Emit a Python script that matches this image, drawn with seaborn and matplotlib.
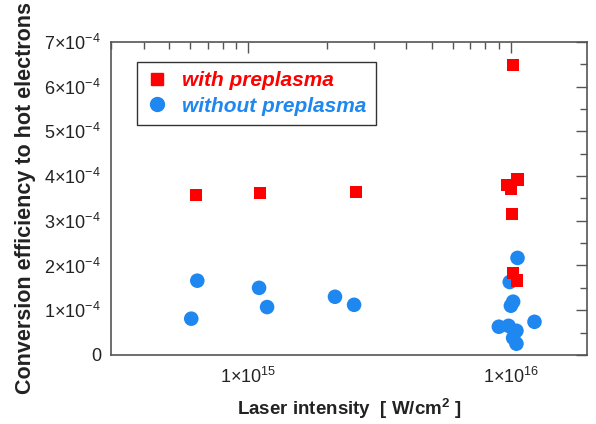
import numpy as np
import pandas as pd
import matplotlib
matplotlib.use("Agg")
import matplotlib.pyplot as plt
import matplotlib.ticker as mticker
from matplotlib.lines import Line2D
import seaborn as sns

# --- data ---
with_x = [6.34e14, 1.11e15, 2.57e15, 1.02e16, 9.66e15, 1.06e16, 1.00e16, 1.01e16, 1.02e16, 1.055e16]
with_y = [3.58e-4, 3.62e-4, 3.65e-4, 6.49e-4, 3.80e-4, 3.92e-4, 3.71e-4, 3.15e-4, 1.83e-4, 1.66e-4]
without_x = [6.4e14, 6.07e14, 1.10e15, 1.18e15, 2.14e15, 2.53e15, 1.06e16, 9.9e15, 1.02e16, 1.00e16,
             9.0e15, 9.8e15, 1.05e16, 1.02e16, 1.05e16, 1.23e16]
without_y = [1.66e-4, 0.81e-4, 1.50e-4, 1.07e-4, 1.30e-4, 1.12e-4, 2.17e-4, 1.63e-4, 1.19e-4, 1.10e-4,
             0.63e-4, 0.65e-4, 0.54e-4, 0.38e-4, 0.25e-4, 0.74e-4]
series_labels = ["with preplasma", "without preplasma"]
y_ticks = [0, 1e-4, 2e-4, 3e-4, 4e-4, 5e-4, 6e-4, 7e-4]
x_ticks = [1e15, 1e16]

df = pd.DataFrame({
    "x": with_x + without_x,
    "y": with_y + without_y,
    "series": [series_labels[0]] * len(with_x) + [series_labels[1]] * len(without_x),
})

sns.set_theme(style="white")
plt.rcParams["font.family"] = ["Liberation Sans", "DejaVu Sans"]
plt.rcParams["mathtext.fontset"] = "custom"
plt.rcParams["mathtext.rm"] = "Liberation Sans"
plt.rcParams["mathtext.it"] = "Liberation Sans:italic"
plt.rcParams["mathtext.bf"] = "Liberation Sans:bold"

RED = "#ff0000"
BLUE = "#1e88f0"
TXT = "#222222"

fig = plt.figure(figsize=(5.96, 4.24), dpi=100)
ax = fig.add_axes([0.186, 0.163, 0.799, 0.738])

sns.scatterplot(data=df[df.series == series_labels[1]], x="x", y="y", ax=ax,
                color=BLUE, marker="o", s=110, edgecolor="none", legend=False, zorder=2)
sns.scatterplot(data=df[df.series == series_labels[0]], x="x", y="y", ax=ax,
                color=RED, marker="s", s=80, edgecolor="none", legend=False, zorder=3)

ax.set_xscale("log")
ax.set_xlim(3e14, 1.95e16)
ax.set_ylim(0, 7e-4)

ax.set_xticks(x_ticks)
ax.xaxis.set_major_formatter(mticker.FuncFormatter(
    lambda v, p: r"1$\times$10$^{%d}$" % round(np.log10(v))))
ax.xaxis.set_minor_locator(mticker.LogLocator(base=10, subs=np.arange(2, 10)))
ax.xaxis.set_minor_formatter(mticker.NullFormatter())

ax.set_yticks(y_ticks)
def yfmt(v, p):
    if v == 0:
        return "0"
    return r"%d$\times$10$^{-4}$" % round(v / 1e-4)
ax.yaxis.set_major_formatter(mticker.FuncFormatter(yfmt))
ax.yaxis.set_minor_locator(mticker.MultipleLocator(0.5e-4))

ax.tick_params(which="both", direction="in", top=True, right=True, colors="#555555",
               labelcolor=TXT, labelsize=13)
ax.tick_params(axis="x", which="major", pad=9)
ax.tick_params(axis="y", which="major", pad=7)
ax.tick_params(which="major", length=8, width=1)
ax.tick_params(which="minor", length=5, width=1)
for s in ax.spines.values():
    s.set_color("#555555")
    s.set_linewidth(1.2)

ax.set_xlabel(r"Laser intensity  [ W/cm$^{\mathbf{2}}$ ]", fontsize=13.5, fontweight="bold",
              color=TXT, labelpad=7)
ax.set_ylabel("Conversion efficiency to hot electrons", fontsize=15.5, fontweight="bold",
              color=TXT, labelpad=6)

handles = [Line2D([], [], marker="s", color=RED, linestyle="none", markersize=9),
           Line2D([], [], marker="o", color=BLUE, linestyle="none", markersize=10)]
leg = ax.legend(handles, series_labels, loc="upper left", bbox_to_anchor=(0.055, 0.936),
                borderaxespad=0, frameon=True, fancybox=False, edgecolor="#333333", framealpha=1,
                prop={"style": "italic", "weight": "bold", "size": 15},
                labelcolor=[RED, BLUE], handletextpad=0.7, borderpad=0.45,
                labelspacing=0.3, handlelength=1.0)
leg.get_frame().set_linewidth(1.0)

fig.savefig("out.png", dpi=100)
